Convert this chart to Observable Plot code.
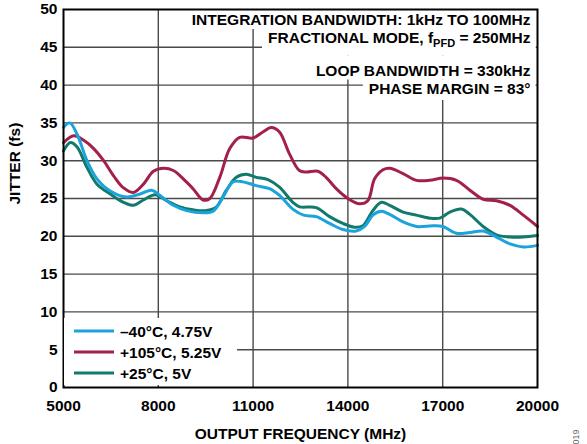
<!DOCTYPE html>
<html><head><meta charset="utf-8">
<script src="https://cdn.jsdelivr.net/npm/d3@7"></script>
<script src="https://cdn.jsdelivr.net/npm/@observablehq/plot@0.6"></script>
<style>
body{margin:0;background:#fff;}
#chart{position:relative;width:587px;height:444px;}
</style></head><body><div id="chart"></div>
<script>
const seriesNames = ["–40°C, 4.75V", "+105°C, 5.25V", "+25°C, 5V"];
const seriesColors = ["#1ba3dc", "#a3204c", "#117a6d"];

const freqCold = [5000, 5200, 5430, 5745, 6060, 6480, 7000, 7425, 7790, 8055, 8475, 8900, 9420, 9735, 10050, 10365, 10680, 11100, 11520, 11835, 12255, 12600, 13000, 13420, 13840, 14260, 14530, 14790, 15060, 15320, 15745, 16170, 16700, 17010, 17435, 17860, 18280, 18700, 19130, 19550, 20000];
const jitterCold = [34.4, 35, 33.5, 30, 27.6, 26, 25.2, 25.6, 26.1, 25.4, 24.1, 23.4, 23.1, 23.3, 25.2, 27.2, 27.2, 26.7, 26.3, 25.4, 23.6, 22.8, 22.6, 21.7, 20.9, 20.7, 21.3, 22.8, 23.3, 22.9, 21.9, 21.3, 21.4, 21.3, 20.4, 20.5, 20.7, 19.9, 19, 18.6, 18.8];

const freqHot = [5000, 5325, 5640, 5955, 6270, 6585, 6900, 7215, 7530, 7845, 8160, 8475, 8790, 9100, 9420, 9630, 9945, 10260, 10575, 11000, 11310, 11575, 11835, 12150, 12465, 12680, 13050, 13310, 13630, 14000, 14370, 14630, 14845, 15110, 15320, 15745, 16170, 16590, 17010, 17435, 17860, 18280, 18700, 19130, 19550, 20000];
const jitterHot = [32.4, 33.3, 32.7, 31.6, 30, 28, 26.4, 25.8, 26.9, 28.6, 29, 28.7, 27.6, 26.3, 24.8, 25, 27.8, 31.6, 33.1, 33, 33.8, 34.4, 33.8, 30.9, 28.7, 28.5, 28.6, 27.8, 26.3, 25, 24.3, 24.7, 27.6, 28.8, 29, 28.3, 27.4, 27.4, 27.7, 27.4, 26.1, 24.9, 24.7, 24.1, 22.8, 21.3];

const freqRoom = [5000, 5220, 5430, 5745, 6060, 6480, 6900, 7215, 7530, 7900, 8265, 8685, 9100, 9525, 9840, 10155, 10470, 10785, 11100, 11470, 11835, 12255, 12470, 13000, 13420, 13840, 14210, 14475, 14790, 15060, 15320, 15745, 16170, 16590, 16910, 17225, 17595, 17860, 18280, 18700, 19130, 19550, 20000];
const jitterRoom = [31.3, 32.4, 31.8, 29.1, 26.9, 25.6, 24.5, 24.1, 24.8, 25.5, 24.7, 23.9, 23.5, 23.4, 23.9, 26.1, 27.8, 28.2, 27.8, 27.5, 26.5, 24.5, 23.9, 23.8, 22.6, 21.7, 21.2, 21.4, 23.4, 24.5, 24.1, 23.2, 22.8, 22.4, 22.4, 23.2, 23.6, 22.9, 21.3, 20.2, 19.9, 19.9, 20.1];

const xTicks = [5000, 8000, 11000, 14000, 17000, 20000];
const yTicks = [0, 5, 10, 15, 20, 25, 30, 35, 40, 45, 50];
const xTitle = "OUTPUT FREQUENCY (MHz)";
const yTitle = "JITTER (fs)";
const notes = ["INTEGRATION BANDWIDTH: 1kHz TO 100MHz", "FRACTIONAL MODE, fPFD = 250MHz", "LOOP BANDWIDTH = 330kHz", "PHASE MARGIN = 83°"];
const figId = "019";

function toRows(fs, vs, s) { return fs.map((f, i) => ({freq: f, jitter: vs[i], series: s})); }
const rowsCold = toRows(freqCold, jitterCold, seriesNames[0]);
const rowsHot = toRows(freqHot, jitterHot, seriesNames[1]);
const rowsRoom = toRows(freqRoom, jitterRoom, seriesNames[2]);

const FONT = "'Liberation Sans', Arial, Helvetica, sans-serif";
const FS = 15.5;
const noteDy = [11, 29, 61.5, 79.5];

const plot = Plot.plot({
  width: 587, height: 444,
  marginLeft: 63, marginRight: 50, marginTop: 9, marginBottom: 57,
  style: {fontFamily: FONT, fontSize: FS + "px", fontWeight: "bold", color: "#000", background: "#fff"},
  x: {domain: [5000, 20000]},
  y: {domain: [0, 50]},
  marks: [
    Plot.gridX(xTicks.slice(1, -1), {stroke: "#4a4a4a", strokeOpacity: 1, strokeWidth: 1.4}),
    Plot.gridY(yTicks.slice(1, -1), {stroke: "#4a4a4a", strokeOpacity: 1, strokeWidth: 1.4}),
    Plot.line(rowsRoom, {x: "freq", y: "jitter", stroke: seriesColors[2], strokeWidth: 3, curve: "catmull-rom"}),
    Plot.line(rowsHot, {x: "freq", y: "jitter", stroke: seriesColors[1], strokeWidth: 3, curve: "catmull-rom"}),
    Plot.line(rowsCold, {x: "freq", y: "jitter", stroke: seriesColors[0], strokeWidth: 3, curve: "catmull-rom"}),
    ...notes.map((t, i) => Plot.text([t], {frameAnchor: "top-right", textAnchor: "end", lineAnchor: "middle", dx: -7, dy: noteDy[i], fontSize: FS, fontWeight: "bold", fill: "#000"})),
    Plot.frame({stroke: "#000", strokeWidth: 2}),
    Plot.axisX(xTicks, {tickSize: 0, tickPadding: 12, label: null, fontSize: FS, fontWeight: "bold", tickFormat: d => String(d)}),
    Plot.axisY(yTicks, {tickSize: 0, tickPadding: 6, label: null, fontSize: FS, fontWeight: "bold", tickFormat: d => String(d)}),
    Plot.text([xTitle], {frameAnchor: "bottom", lineAnchor: "middle", dy: 47, fontSize: FS, fontWeight: "bold"}),
    Plot.text([yTitle], {frameAnchor: "left", lineAnchor: "middle", rotate: -90, dx: -48, dy: 6, fontSize: FS, fontWeight: "bold"}),
    Plot.text([figId], {frameAnchor: "bottom-right", lineAnchor: "middle", rotate: -90, dx: 39, dy: 42, fontSize: 9, fontWeight: "normal", fill: "#666"})
  ]
});
document.getElementById("chart").appendChild(plot);

const svg = d3.select(plot);
const ns = "http://www.w3.org/2000/svg";
const sr = plot.getBoundingClientRect();
function box(el) { const r = el.getBoundingClientRect(); return {x: r.left - sr.left, y: r.top - sr.top, w: r.width, h: r.height}; }

// subscript in fPFD
svg.selectAll("text").each(function() {
  if (this.textContent === notes[1]) {
    const parts = notes[1].split("PFD");
    this.textContent = "";
    const a = document.createElementNS(ns, "tspan"); a.textContent = parts[0];
    const b = document.createElementNS(ns, "tspan"); b.textContent = "PFD"; b.setAttribute("dy", "4"); b.setAttribute("font-size", "11");
    const c = document.createElementNS(ns, "tspan"); c.textContent = parts[1]; c.setAttribute("dy", "-4");
    this.appendChild(a); this.appendChild(b); this.appendChild(c);
  }
});

// white boxes behind notes (stacked, contiguous)
const noteEls = [];
svg.selectAll("text").each(function() { const k = notes.indexOf(this.textContent); if (k >= 0) noteEls[k] = this; });
const noteBoxes = noteEls.map(box);
noteEls.forEach((el, k) => {
  const b = noteBoxes[k];
  let left = b.x - 6;
  if (k === 2) left = Math.min(left, noteBoxes[1].x - 6);
  const right = b.x + b.w + 5;
  const top = k === 0 ? b.y - 3 : (noteBoxes[k - 1].y + noteBoxes[k - 1].h + b.y) / 2;
  const bottom = k === noteEls.length - 1 ? b.y + b.h + 3 : (b.y + b.h + noteBoxes[k + 1].y) / 2;
  const g = el.parentNode;
  const rect = document.createElementNS(ns, "rect");
  rect.setAttribute("x", left); rect.setAttribute("y", top);
  rect.setAttribute("width", right - left); rect.setAttribute("height", bottom - top);
  rect.setAttribute("fill", "#fff");
  g.parentNode.insertBefore(rect, g);
});

// legend
const x0 = 63, y0 = 387;
const lg = svg.append("g").attr("text-anchor", "start");
const lgBg = lg.append("rect").attr("fill", "#fff");
const legendDy = [-56, -35, -14];
let maxRight = 0;
seriesNames.forEach((name, i) => {
  const yy = y0 + legendDy[i];
  lg.append("line").attr("x1", x0 + 11).attr("x2", x0 + 51).attr("y1", yy).attr("y2", yy)
    .attr("stroke", seriesColors[i]).attr("stroke-width", 3.2);
  const t = lg.append("text").attr("x", x0 + 57).attr("y", yy).attr("dy", "0.36em")
    .attr("text-anchor", "start")
    .attr("font-size", FS).attr("font-weight", "bold").attr("fill", "#000").text(name);
  const b = box(t.node());
  maxRight = Math.max(maxRight, b.x + b.w);
});
lgBg.attr("x", x0 + 1).attr("y", y0 - 69).attr("width", maxRight + 14 - x0).attr("height", 67);
</script></body></html>
